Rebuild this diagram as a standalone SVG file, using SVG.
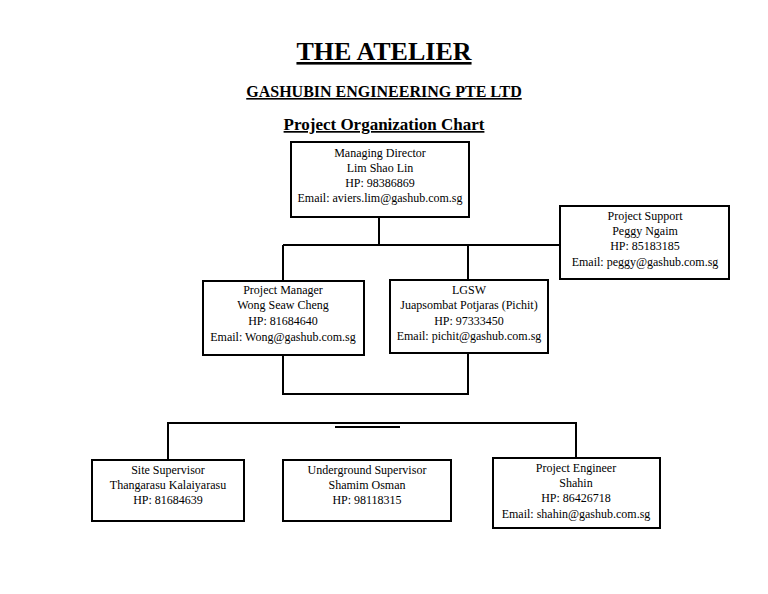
<svg xmlns="http://www.w3.org/2000/svg" width="768" height="594" viewBox="0 0 768 594">
<style>
.b{fill:#fff;stroke:#000;stroke-width:2}
.t{font-family:"Liberation Serif",serif;font-size:12px;text-anchor:middle;fill:#000}
.h{font-family:"Liberation Serif",serif;font-weight:bold;text-anchor:middle;text-decoration:underline;fill:#000}
.c{fill:none;stroke:#000;stroke-width:2}
</style>
<rect width="768" height="594" fill="#fff"/>
<text class="h" x="384" y="60" font-size="26">THE ATELIER</text>
<text class="h" x="384" y="97" font-size="16">GASHUBIN ENGINEERING PTE LTD</text>
<text class="h" x="384" y="130" font-size="17">Project Organization Chart</text>
<g id="connectors">
<path class="c" d="M379 217V245M283 245H560M283 245V281M468 245V280"/>
<path class="c" d="M283 355V394H468V353"/>
<path class="c" d="M168 460V423H576V458"/>
<path class="c" d="M335 427H400"/>
</g>
<g id="md"><rect class="b" x="291" y="142" width="178" height="75"/>
<text class="t" x="380" y="157">Managing Director</text><text class="t" x="380" y="172">Lim Shao Lin</text><text class="t" x="380" y="187">HP: 98386869</text><text class="t" x="380" y="202">Email: aviers.lim@gashub.com.sg</text></g>
<g id="ps"><rect class="b" x="560" y="206" width="169" height="73"/>
<text class="t" x="645" y="220">Project Support</text><text class="t" x="645" y="235">Peggy Ngaim</text><text class="t" x="645" y="250">HP: 85183185</text><text class="t" x="645" y="266">Email: peggy@gashub.com.sg</text></g>
<g id="pm"><rect class="b" x="203" y="281" width="161" height="74"/>
<text class="t" x="283" y="294">Project Manager</text><text class="t" x="283" y="309">Wong Seaw Cheng</text><text class="t" x="283" y="325">HP: 81684640</text><text class="t" x="283" y="341">Email: Wong@gashub.com.sg</text></g>
<g id="lgsw"><rect class="b" x="390" y="280" width="158" height="73"/>
<text class="t" x="469" y="294">LGSW</text><text class="t" x="469" y="309">Juapsombat Potjaras (Pichit)</text><text class="t" x="469" y="325">HP: 97333450</text><text class="t" x="469" y="340">Email: pichit@gashub.com.sg</text></g>
<g id="ss"><rect class="b" x="92" y="460" width="152" height="61"/>
<text class="t" x="168" y="474">Site Supervisor</text><text class="t" x="168" y="489">Thangarasu Kalaiyarasu</text><text class="t" x="168" y="504">HP: 81684639</text></g>
<g id="us"><rect class="b" x="283" y="460" width="168" height="61"/>
<text class="t" x="367" y="474">Underground Supervisor</text><text class="t" x="367" y="489">Shamim Osman</text><text class="t" x="367" y="504">HP: 98118315</text></g>
<g id="pe"><rect class="b" x="493" y="458" width="167" height="70"/>
<text class="t" x="576" y="472">Project Engineer</text><text class="t" x="576" y="487">Shahin</text><text class="t" x="576" y="502">HP: 86426718</text><text class="t" x="576" y="518">Email: shahin@gashub.com.sg</text></g>
</svg>
